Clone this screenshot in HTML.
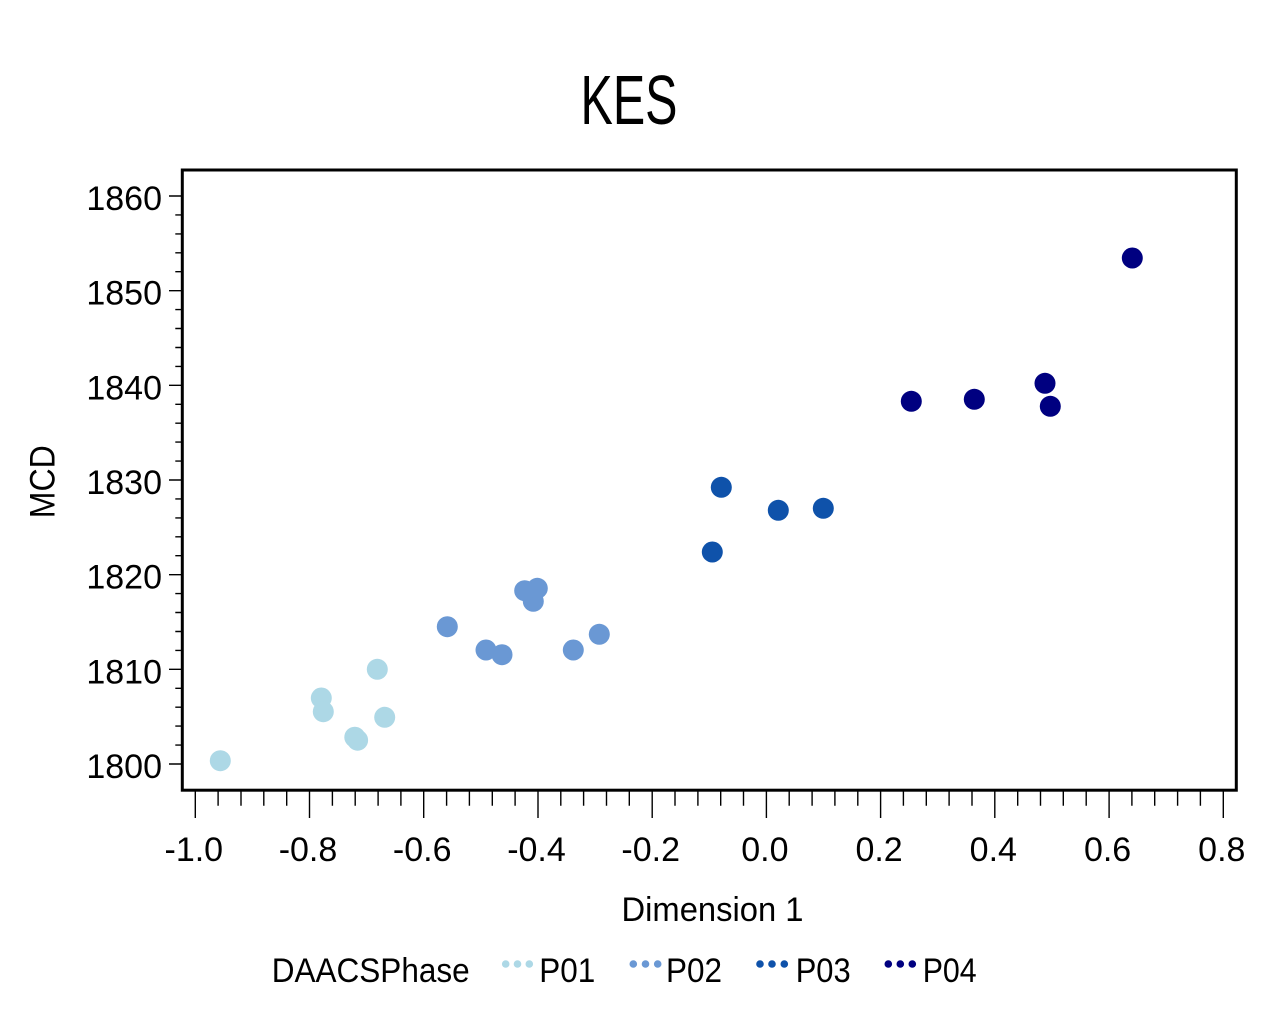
<!DOCTYPE html>
<html>
<head>
<meta charset="utf-8">
<style>
  html, body { margin: 0; padding: 0; background: #fff; }
  svg { display: block; }
  text { font-family: "Liberation Sans", "DejaVu Sans", sans-serif; fill: #000; }
</style>
</head>
<body>
<svg width="1288" height="1014" viewBox="0 0 1288 1014" xmlns="http://www.w3.org/2000/svg">
  <rect x="0" y="0" width="1288" height="1014" fill="#fff"/>

  <!-- Title -->
  <text x="629" y="124" font-size="70" text-anchor="middle" textLength="97" lengthAdjust="spacingAndGlyphs">KES</text>

  <!-- Plot frame -->
  <rect x="182.3" y="170" width="1054" height="620.2" fill="none" stroke="#000" stroke-width="3"/>

  <!-- X ticks major -->
  <path stroke="#000" stroke-width="1.4" fill="none" d="
    M195.3 791.5V818 M309.5 791.5V818 M423.7 791.5V818 M538 791.5V818 M652.2 791.5V818
    M766.4 791.5V818 M880.6 791.5V818 M994.8 791.5V818 M1109.1 791.5V818 M1223.3 791.5V818"/>
  <!-- X ticks minor -->
  <path stroke="#000" stroke-width="1.4" fill="none" d="
    M218.1 791.5V805.7 M241 791.5V805.7 M263.8 791.5V805.7 M286.7 791.5V805.7
    M332.4 791.5V805.7 M355.2 791.5V805.7 M378.1 791.5V805.7 M400.9 791.5V805.7
    M446.6 791.5V805.7 M469.4 791.5V805.7 M492.3 791.5V805.7 M515.1 791.5V805.7
    M560.8 791.5V805.7 M583.6 791.5V805.7 M606.5 791.5V805.7 M629.3 791.5V805.7
    M675 791.5V805.7 M697.9 791.5V805.7 M720.7 791.5V805.7 M743.5 791.5V805.7
    M789.2 791.5V805.7 M812.1 791.5V805.7 M834.9 791.5V805.7 M857.8 791.5V805.7
    M903.4 791.5V805.7 M926.3 791.5V805.7 M949.1 791.5V805.7 M972 791.5V805.7
    M1017.7 791.5V805.7 M1040.5 791.5V805.7 M1063.3 791.5V805.7 M1086.2 791.5V805.7
    M1131.9 791.5V805.7 M1154.7 791.5V805.7 M1177.6 791.5V805.7 M1200.4 791.5V805.7"/>

  <!-- Y ticks major -->
  <path stroke="#000" stroke-width="1.4" fill="none" d="
    M169 764H181 M169 669.3H181 M169 574.7H181 M169 480H181 M169 385.3H181 M169 290.7H181 M169 196H181"/>
  <!-- Y ticks minor -->
  <path stroke="#000" stroke-width="1.4" fill="none" d="
    M175.3 745.1H181 M175.3 726.1H181 M175.3 707.2H181 M175.3 688.3H181
    M175.3 650.4H181 M175.3 631.5H181 M175.3 612.5H181 M175.3 593.6H181
    M175.3 555.7H181 M175.3 536.8H181 M175.3 517.9H181 M175.3 498.9H181
    M175.3 461.1H181 M175.3 442.1H181 M175.3 423.2H181 M175.3 404.3H181
    M175.3 366.4H181 M175.3 347.5H181 M175.3 328.5H181 M175.3 309.6H181
    M175.3 271.7H181 M175.3 252.8H181 M175.3 233.9H181 M175.3 214.9H181"/>

  <!-- Y tick labels -->
  <g font-size="34" text-anchor="end">
    <text x="162" y="778">1800</text>
    <text x="162" y="683.3">1810</text>
    <text x="162" y="588.7">1820</text>
    <text x="162" y="494">1830</text>
    <text x="162" y="399.3">1840</text>
    <text x="162" y="304.7">1850</text>
    <text x="162" y="210">1860</text>
  </g>

  <!-- X tick labels -->
  <g font-size="34" text-anchor="middle">
    <text x="193.8" y="861">-1.0</text>
    <text x="308" y="861">-0.8</text>
    <text x="422.2" y="861">-0.6</text>
    <text x="536.5" y="861">-0.4</text>
    <text x="650.7" y="861">-0.2</text>
    <text x="764.9" y="861">0.0</text>
    <text x="879.1" y="861">0.2</text>
    <text x="993.3" y="861">0.4</text>
    <text x="1107.6" y="861">0.6</text>
    <text x="1221.8" y="861">0.8</text>
  </g>

  <!-- Axis titles -->
  <text x="712.5" y="921" font-size="34" text-anchor="middle" textLength="182" lengthAdjust="spacingAndGlyphs">Dimension 1</text>
  <text transform="translate(54.3,481.7) rotate(-90)" x="0" y="0" font-size="35" text-anchor="middle" textLength="73" lengthAdjust="spacingAndGlyphs">MCD</text>

  <!-- Data: P01 -->
  <g fill="#ADD8E6">
    <circle cx="220.3" cy="760.7" r="10.5"/>
    <circle cx="321.3" cy="698" r="10.5"/>
    <circle cx="323.3" cy="711.7" r="10.5"/>
    <circle cx="377.3" cy="669.3" r="10.5"/>
    <circle cx="384.7" cy="717.3" r="10.5"/>
    <circle cx="354.8" cy="737.2" r="10.5"/>
    <circle cx="357.6" cy="740.2" r="10.5"/>
  </g>
  <!-- P02 -->
  <g fill="#6A98D4">
    <circle cx="447.3" cy="626.7" r="10.5"/>
    <circle cx="486" cy="650" r="10.5"/>
    <circle cx="502" cy="654.7" r="10.5"/>
    <circle cx="573.3" cy="650" r="10.5"/>
    <circle cx="599.3" cy="634.3" r="10.5"/>
    <circle cx="533.3" cy="601.3" r="10.5"/>
    <circle cx="524.7" cy="590.7" r="10.5"/>
    <circle cx="537.3" cy="588.3" r="10.5"/>
  </g>
  <!-- P03 -->
  <g fill="#0F52AA">
    <circle cx="721.3" cy="487.3" r="10.5"/>
    <circle cx="712.3" cy="552" r="10.5"/>
    <circle cx="778.3" cy="510.3" r="10.5"/>
    <circle cx="823.3" cy="508.3" r="10.5"/>
  </g>
  <!-- P04 -->
  <g fill="#000080">
    <circle cx="1132.3" cy="258" r="10.5"/>
    <circle cx="911.3" cy="401.3" r="10.5"/>
    <circle cx="974.3" cy="399.3" r="10.5"/>
    <circle cx="1045" cy="383.3" r="10.5"/>
    <circle cx="1050.3" cy="406.3" r="10.5"/>
  </g>

  <!-- Legend -->
  <text x="271.7" y="982" font-size="34" textLength="198" lengthAdjust="spacingAndGlyphs">DAACSPhase</text>

  <g fill="#ADD8E6">
    <circle cx="505.7" cy="964" r="3.8"/>
    <circle cx="517.5" cy="964" r="3.8"/>
    <circle cx="529.3" cy="964" r="3.8"/>
  </g>
  <text x="539.3" y="982" font-size="34" textLength="56" lengthAdjust="spacingAndGlyphs">P01</text>

  <g fill="#6A98D4">
    <circle cx="633.3" cy="964" r="3.8"/>
    <circle cx="645.5" cy="964" r="3.8"/>
    <circle cx="657.7" cy="964" r="3.8"/>
  </g>
  <text x="666" y="982" font-size="34" textLength="56" lengthAdjust="spacingAndGlyphs">P02</text>

  <g fill="#0F52AA">
    <circle cx="760" cy="964" r="3.8"/>
    <circle cx="772" cy="964" r="3.8"/>
    <circle cx="784.3" cy="964" r="3.8"/>
  </g>
  <text x="795.7" y="982" font-size="34" textLength="55" lengthAdjust="spacingAndGlyphs">P03</text>

  <g fill="#000080">
    <circle cx="888.3" cy="964" r="3.8"/>
    <circle cx="900.3" cy="964" r="3.8"/>
    <circle cx="912.3" cy="964" r="3.8"/>
  </g>
  <text x="922.7" y="982" font-size="34" textLength="54" lengthAdjust="spacingAndGlyphs">P04</text>
</svg>
</body>
</html>
